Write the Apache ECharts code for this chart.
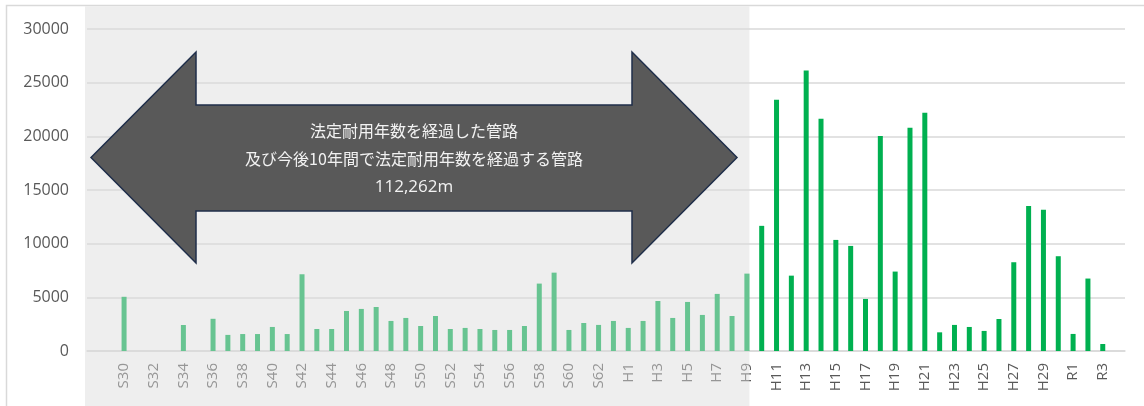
<!DOCTYPE html>
<html>
<head>
<meta charset="utf-8">
<script src="https://cdn.jsdelivr.net/npm/echarts@6/dist/echarts.min.js"></script>
<style>
  html, body { margin: 0; padding: 0; background: #ffffff; }
  #chart { width: 1144px; height: 406px; }
</style>
</head>
<body>
<div id="chart"></div>
<script>
// 布設年度（昭和30年〜令和3年）
const categories = [
  'S30','S31','S32','S33','S34','S35','S36','S37','S38','S39',
  'S40','S41','S42','S43','S44','S45','S46','S47','S48','S49',
  'S50','S51','S52','S53','S54','S55','S56','S57','S58','S59',
  'S60','S61','S62','S63',
  'H1','H2','H3','H4','H5','H6','H7','H8','H9','H10',
  'H11','H12','H13','H14','H15','H16','H17','H18','H19','H20',
  'H21','H22','H23','H24','H25','H26','H27','H28','H29','H30',
  'R1','R2','R3'
];

// 年度別の布設延長（m）
const lengths = [
  5050, 0, 0, 0, 2420, 0, 3000, 1500, 1580, 1580,
  2240, 1580, 7150, 2050, 2050, 3730, 3920, 4100, 2800, 3080,
  2330, 3260, 2050, 2150, 2050, 1960, 1960, 2330, 6280, 7300,
  1960, 2610, 2430, 2800,
  2150, 2800, 4660, 3080, 4570, 3360, 5320, 3260, 7210, 11660,
  23410, 7020, 26140, 21640, 10350, 9790, 4850, 20020, 7400, 20800,
  22200, 1740, 2430, 2240, 1870, 2980, 8270, 13520, 13150, 8830,
  1590, 6750, 650
];

// 縦軸目盛
const yTicks = { min: 0, max: 30000, interval: 5000 };

// 対象期間の最終年度
const lastAgedYear = 'H9';

// 注記の文言
const noteLines = [
  '法定耐用年数を経過した管路',
  '及び今後10年間で法定耐用年数を経過する管路',
  '112,262m'
];

// 軸の両端に空きの区分を置く
const axisCats = ['', ''].concat(categories, ['']);
const axisVals = [null, null].concat(lengths, [null]);

const FONT = '"Noto Sans CJK JP", "Noto Sans", sans-serif';
const AXIS_FONT = '"Open Sans", "Noto Sans", sans-serif';
const GRID = { left: 87, right: 19, top: 29, bottom: 55 };

const chart = echarts.init(document.getElementById('chart'), null, { renderer: 'canvas' });

chart.setOption({
  animation: false,
  backgroundColor: '#ffffff',
  grid: GRID,
  xAxis: {
    type: 'category',
    data: axisCats,
    boundaryGap: true,
    axisLine: { show: true, lineStyle: { color: '#d9d9d9', width: 1.5 } },
    axisTick: { show: false },
    axisLabel: {
      interval: 1,
      rotate: 90,
      margin: 12,
      color: '#595959',
      fontSize: 15,
      fontFamily: AXIS_FONT
    },
    splitLine: { show: false }
  },
  yAxis: {
    type: 'value',
    min: yTicks.min,
    max: yTicks.max,
    interval: yTicks.interval,
    axisLine: { show: false },
    axisTick: { show: false },
    axisLabel: {
      margin: 18,
      color: '#595959',
      fontSize: 16,
      fontFamily: AXIS_FONT,
      formatter: function (v) { return String(v); }
    },
    splitLine: { lineStyle: { color: '#d9d9d9', width: 1.5 } }
  },
  series: [{
    type: 'bar',
    data: axisVals,
    barWidth: 5,
    itemStyle: { color: '#00b050' }
  }]
});

// 区間の網掛けと両矢印の注記
const shadeLeft = GRID.left - 2;
const shadeRight = chart.convertToPixel({ xAxisIndex: 0 }, lastAgedYear) + 2.5;

const tipL = 91, tipR = 737, midY = 157.5;
const headL = 196, headR = 632;
const headTop = 52, headBot = 263;
const shaftTop = 105, shaftBot = 211;
const textX = (tipL + tipR) / 2;

chart.setOption({
  graphic: [
    {
      type: 'rect',
      z: 100,
      silent: true,
      shape: { x: 6.5, y: 5.5, width: 1200, height: 500 },
      style: { fill: 'none', stroke: '#d9d9d9', lineWidth: 1.5 }
    },
    {
      type: 'rect',
      z: 101,
      silent: true,
      shape: { x: shadeLeft, y: 6.5, width: shadeRight - shadeLeft, height: 420 },
      style: { fill: 'rgba(218,218,218,0.47)' }
    },
    {
      type: 'polygon',
      z: 110,
      silent: true,
      shape: {
        points: [
          [tipL, midY], [headL, headTop], [headL, shaftTop], [headR, shaftTop],
          [headR, headTop], [tipR, midY], [headR, headBot], [headR, shaftBot],
          [headL, shaftBot], [headL, headBot]
        ]
      },
      style: { fill: '#595959', stroke: '#1f2e4a', lineWidth: 1.5 }
    }
  ].concat(noteLines.map(function (line, i) {
    // 数値の行は欧文書体で
    const isNumber = i === noteLines.length - 1;
    return {
      type: 'text',
      z: 120,
      silent: true,
      x: textX,
      y: 131 + i * 28,
      style: {
        text: line,
        fill: '#f2f2f2',
        font: (isNumber ? '17px ' + AXIS_FONT : '16px ' + FONT),
        align: 'center',
        verticalAlign: 'middle',
        textAlign: 'center',
        textVerticalAlign: 'middle'
      }
    };
  }))
});
</script>
</body>
</html>
